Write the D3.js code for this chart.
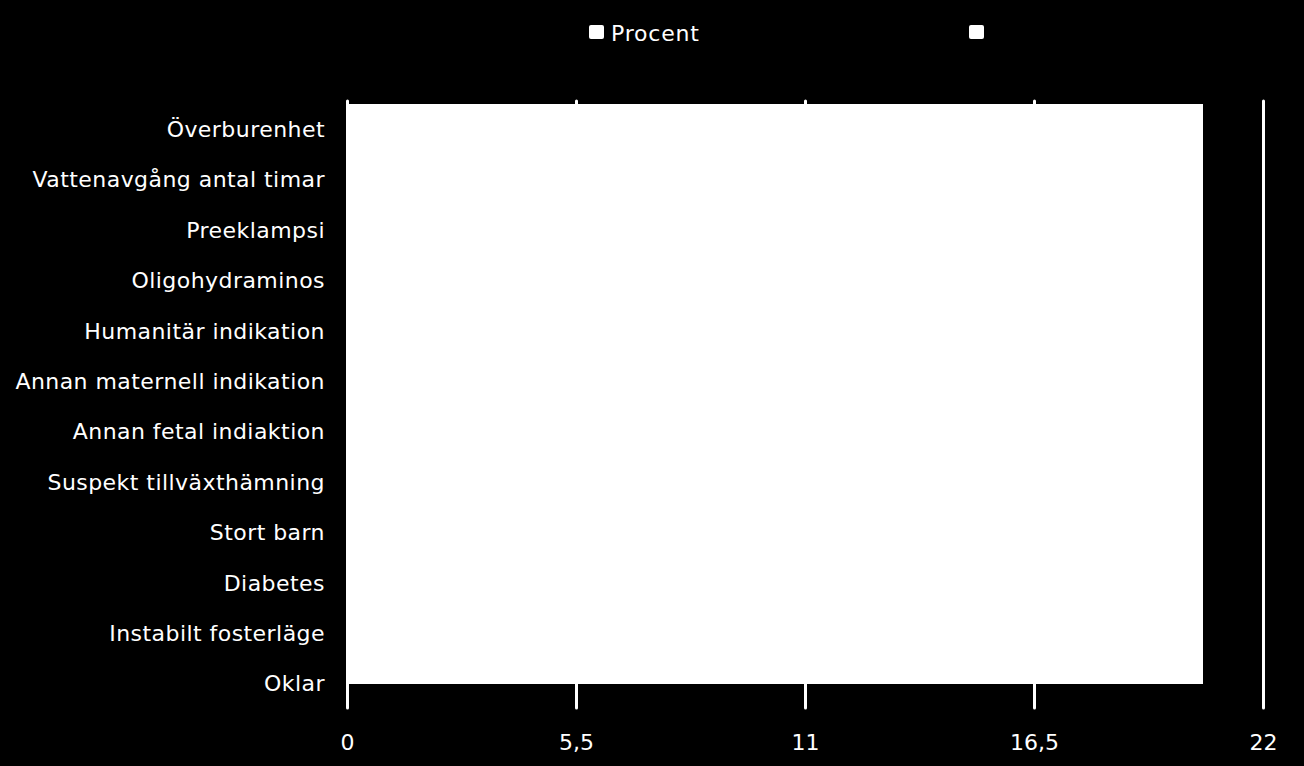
<!DOCTYPE html>
<html lang="sv">
<head>
    <meta charset="UTF-8">
    <title>Indikationer</title>
    <script src="https://d3js.org/d3.v7.min.js"></script>
    <style>
        body {
            margin: 0;
            background: #000;
        }
        svg {
            display: block;
            font-family: "DejaVu Sans", sans-serif;
        }
    </style>
</head>
<body>
    <div id="chart"></div>
    <script>
        // categories, top to bottom
        const categories = [
            "Överburenhet",
            "Vattenavgång antal timar",
            "Preeklampsi",
            "Oligohydraminos",
            "Humanitär indikation",
            "Annan maternell indikation",
            "Annan fetal indiaktion",
            "Suspekt tillväxthämning",
            "Stort barn",
            "Diabetes",
            "Instabilt fosterläge",
            "Oklar"
        ];
        const procent = [20.55, 20.55, 20.55, 20.55, 20.55, 20.55, 20.55, 20.55, 20.55, 20.55, 20.55, 20.55];
        const serie2  = [20.55, 20.55, 20.55, 20.55, 20.55, 20.55, 20.55, 20.55, 20.55, 20.55, 20.55, 0];
        const seriesNames = ["Procent", ""];
        const xTicks = [0, 5.5, 11, 16.5, 22];

        const width = 1304, height = 766;

        const svg = d3.select("#chart").append("svg")
            .attr("width", width)
            .attr("height", height);

        svg.append("rect")
            .attr("width", width)
            .attr("height", height)
            .attr("fill", "#000");

        const x = d3.scaleLinear().domain([0, 22]).range([347, 1263]);
        const y = d3.scaleBand().domain(categories).range([104, 709]).padding(0);
        const sub = d3.scaleBand().domain([0, 1]).range([0, y.bandwidth()]).padding(0);

        // grid lines + tick labels
        const xAxis = svg.append("g")
            .attr("transform", "translate(0,708)")
            .call(d3.axisBottom(x)
                .tickValues(xTicks)
                .tickSize(-607)
                .tickPadding(26)
                .tickFormat(d => String(d).replace(".", ",")));
        xAxis.select(".domain").remove();
        xAxis.selectAll(".tick line")
            .attr("stroke", "#fff")
            .attr("stroke-width", 3)
            .attr("stroke-linecap", "round");
        xAxis.selectAll(".tick text")
            .attr("fill", "#fff")
            .style("font-size", "22px")
            .style("font-family", "DejaVu Sans, sans-serif");

        // bars (two series per category)
        const series = [procent, serie2];
        series.forEach((vals, s) => {
            svg.append("g")
                .selectAll("rect")
                .data(categories.map((c, i) => ({cat: c, value: vals[i]})))
                .enter().append("rect")
                .attr("x", x(0))
                .attr("y", d => y(d.cat) + sub(s))
                .attr("width", d => x(d.value) - x(0))
                .attr("height", sub.bandwidth())
                .attr("fill", "#fff")
                .attr("shape-rendering", "crispEdges");
        });

        // category labels
        svg.append("g")
            .selectAll("text")
            .data(categories)
            .enter().append("text")
            .attr("x", 325)
            .attr("y", d => y(d) + y.bandwidth() / 2)
            .attr("dy", "0.35em")
            .attr("text-anchor", "end")
            .attr("fill", "#fff")
            .style("font-size", "22px")
            .style("letter-spacing", "0.45px")
            .text(d => d);

        // legend
        const legend = svg.append("g")
            .selectAll("g")
            .data(seriesNames)
            .enter().append("g")
            .attr("transform", (d, i) => "translate(" + (589 + i * 380) + ",25)");
        legend.append("rect")
            .attr("width", 15)
            .attr("height", 14)
            .attr("rx", 2)
            .attr("fill", "#fff");
        legend.append("text")
            .attr("x", 22)
            .attr("y", 16)
            .attr("fill", "#fff")
            .style("font-size", "22px")
            .style("letter-spacing", "0.8px")
            .text(d => d);
    </script>
</body>
</html>
